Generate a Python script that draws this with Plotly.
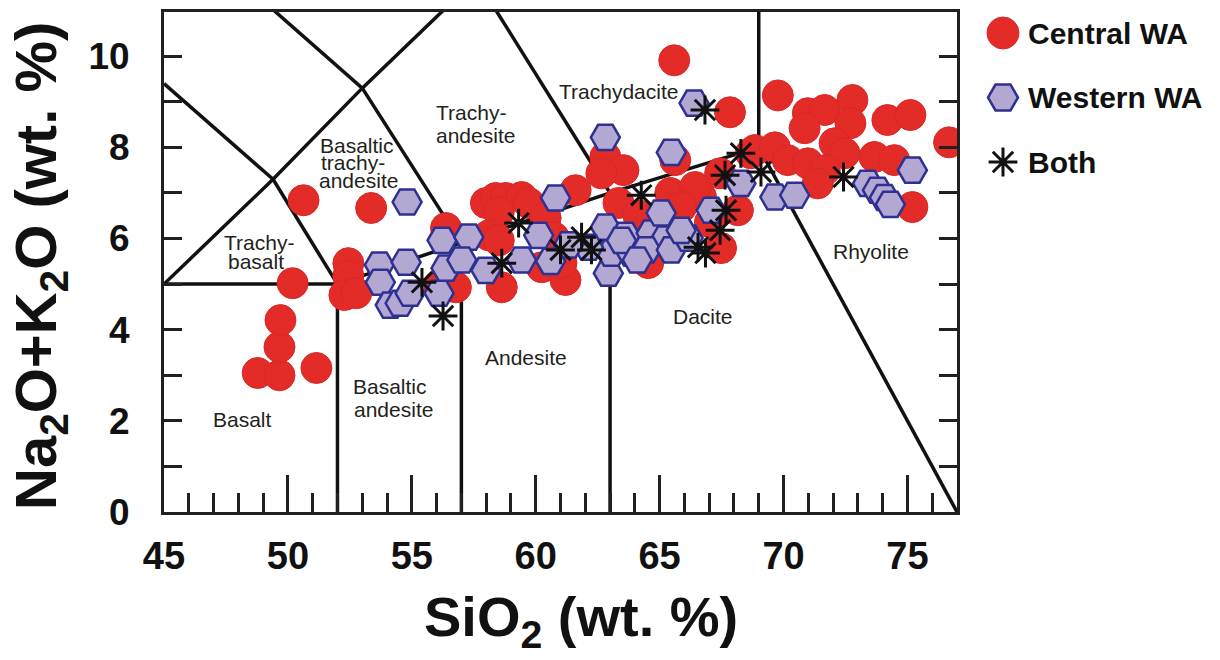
import plotly.graph_objects as go

# ---------------- data ----------------
central_sio2 = [48.78, 49.66, 49.66, 49.70, 51.15, 50.19, 50.63, 53.36, 52.44, 52.44,
                52.28, 52.76, 56.38, 56.10, 56.78, 57.99, 58.39, 58.79, 59.43, 59.72,
                58.51, 60.40, 58.11, 58.51, 58.63, 60.24, 61.20, 61.04, 61.61, 60.72,
                62.81, 63.54, 63.34, 62.65, 64.54, 65.59, 65.63, 65.43, 66.67, 67.44,
                67.84, 67.48, 68.16, 66.43, 65.87, 68.68, 68.85, 69.77, 69.65, 70.17,
                70.98, 71.66, 72.78, 72.70, 70.85, 74.19, 75.12, 76.68, 70.98, 72.06,
                72.46, 71.66, 71.38, 73.67, 74.47, 75.20, 64.14, 67.03]
central_alk = [3.05, 3.00, 3.62, 4.21, 3.16, 5.02, 6.84, 6.67, 5.46, 5.18,
               4.76, 4.80, 6.23, 4.98, 4.93, 6.78, 6.89, 6.89, 6.91, 6.78,
               6.58, 6.45, 6.07, 5.96, 4.93, 5.37, 5.09, 5.46, 7.06, 6.03,
               7.79, 7.50, 6.78, 7.43, 5.46, 9.91, 7.72, 7.00, 6.91, 7.43,
               8.77, 5.79, 6.62, 7.13, 6.69, 7.87, 7.94, 9.14, 8.00, 7.72,
               8.75, 8.82, 9.04, 8.53, 8.42, 8.60, 8.71, 8.11, 7.65, 8.09,
               7.87, 7.50, 7.21, 7.79, 7.72, 6.69, 6.51, 6.36]

western_sio2 = [54.81, 53.69, 54.77, 53.73, 54.13, 54.53, 54.93, 56.10, 56.22, 57.30,
                56.38, 57.02, 57.99, 59.43, 60.12, 60.80, 62.81, 63.62, 64.66, 62.93,
                63.05, 63.86, 65.06, 62.13, 65.23, 64.46, 65.47, 63.46, 64.10, 62.81,
                65.47, 66.39, 68.28, 69.65, 70.45, 73.39, 73.79, 74.07, 74.31, 75.20,
                67.08, 66.15, 65.87, 61.32, 60.60]
western_alk = [6.80, 5.42, 5.48, 5.04, 4.54, 4.58, 4.80, 4.80, 5.96, 6.03,
               5.35, 5.53, 5.30, 5.53, 6.07, 6.89, 6.25, 6.07, 6.12, 5.24,
               5.68, 5.68, 6.56, 5.81, 5.99, 5.75, 5.75, 5.96, 5.53, 8.22,
               7.89, 8.97, 7.21, 6.91, 6.95, 7.21, 7.06, 6.90, 6.75, 7.50,
               6.62, 6.01, 6.18, 5.86, 5.50]

both_sio2 = [56.26, 55.41, 58.63, 59.31, 61.00, 61.85, 62.25, 64.26, 66.83, 66.55,
             66.85, 67.44, 67.68, 67.64, 68.28, 69.09, 72.42]
both_alk = [4.30, 5.04, 5.46, 6.34, 5.75, 6.03, 5.75, 6.95, 8.82, 5.81,
            5.68, 6.18, 6.62, 7.39, 7.87, 7.46, 7.35]

# TAS field boundaries (Le Bas et al., 1986)
boundary_lines = [
    ([52, 52], [0, 5]),
    ([45, 52], [5, 5]),
    ([52, 57, 63, 69], [5, 5.9, 7, 8]),
    ([57, 57], [0, 5.9]),
    ([63, 63], [0, 7]),
    ([69, 69], [8, 12]),
    ([77, 69], [0, 8]),
    ([45, 49.4, 53, 57.6], [5, 7.3, 9.3, 11.7]),
    ([49.4, 52], [7.3, 5]),
    ([48.4, 53, 57], [11.5, 9.3, 5.9]),
    ([57.6, 63], [11.7, 7]),
    ([45, 49.4], [9.4, 7.3]),
]

# field names: one entry per text line (text, SiO2, alkali)
field_lines = [
    ("Trachy-", 48.82, 5.92), ("basalt", 48.70, 5.49),
    ("Basaltic", 52.80, 8.05), ("trachy-", 52.62, 7.66), ("andesite", 52.84, 7.27),
    ("Trachy-", 57.39, 8.76), ("andesite", 57.55, 8.27),
    ("Trachydacite", 63.34, 9.23),
    ("Basalt", 48.17, 2.02),
    ("Basaltic", 54.13, 2.75), ("andesite", 54.25, 2.24),
    ("Andesite", 59.60, 3.40),
    ("Dacite", 66.76, 4.28),
    ("Rhyolite", 73.51, 5.72),
]

legend_names = ["Central WA", "Western WA", "Both"]

x_ticks = [45, 50, 55, 60, 65, 70, 75]
y_ticks = [0, 2, 4, 6, 8, 10]

# ---------------- styles ----------------
W, H = 1220, 660
PL, PR, PT, PB = 164, 957, 12, 512
INK = "#231f20"
RED = "#e32b27"
HEX_FILL = "#b3a8d2"
HEX_LINE = "#2e3192"
SANS = "Liberation Sans, Arial, sans-serif"

fig = go.Figure()

for xs, ys in boundary_lines:
    fig.add_trace(go.Scatter(x=xs, y=ys, mode="lines",
                             line=dict(color="#111111", width=3.5),
                             hoverinfo="skip", showlegend=False))

fig.add_trace(go.Scatter(x=central_sio2, y=central_alk, mode="markers", name="Central WA",
                         marker=dict(symbol="circle", size=31, color=RED,
                                     line=dict(color="#d8282a", width=1)),
                         showlegend=False))
fig.add_trace(go.Scatter(x=western_sio2, y=western_alk, mode="markers", name="Western WA",
                         marker=dict(symbol="hexagon2", size=29, color=HEX_FILL,
                                     line=dict(color=HEX_LINE, width=2.5)),
                         showlegend=False))
fig.add_trace(go.Scatter(x=both_sio2, y=both_alk, mode="markers", name="Both",
                         marker=dict(symbol="asterisk-open", size=24, color="#111111",
                                     line=dict(color="#111111", width=3)),
                         showlegend=False))

# manual legend on an overlay axis measured in pixels
leg_y = [33 + 64.5 * i for i in range(len(legend_names))]
leg_styles = [
    dict(symbol="circle", size=32, color=RED, line=dict(color="#d8282a", width=1)),
    dict(symbol="hexagon2", size=30, color=HEX_FILL, line=dict(color=HEX_LINE, width=2.5)),
    dict(symbol="asterisk-open", size=24, color="#111111", line=dict(color="#111111", width=3)),
]
for name, yy, st in zip(legend_names, leg_y, leg_styles):
    fig.add_trace(go.Scatter(x=[1003], y=[yy], mode="markers", marker=st,
                             xaxis="x2", yaxis="y2", showlegend=False, hoverinfo="skip"))

annotations = []
for text, xx, yy in field_lines:
    annotations.append(dict(x=xx, y=yy, xref="x", yref="y", text=text, showarrow=False,
                            font=dict(family=SANS, size=21, color=INK)))
for name, yy in zip(legend_names, leg_y):
    annotations.append(dict(x=1026, y=yy, xref="x2", yref="y2", text=name, showarrow=False,
                            xanchor="left", yanchor="middle",
                            font=dict(family=SANS, size=30, color="#111111", weight="bold")))
# axis titles
annotations.append(dict(x=581, y=620, xref="x2", yref="y2",
                        text="SiO<sub>2</sub> (wt. %)", showarrow=False,
                        xanchor="center", yanchor="middle",
                        font=dict(family=SANS, size=56, color="#111111", weight="bold")))
annotations.append(dict(x=40, y=266, xref="x2", yref="y2", textangle=-90,
                        text="Na<sub>2</sub>O+K<sub>2</sub>O (wt. %)", showarrow=False,
                        xanchor="center", yanchor="middle",
                        font=dict(family=SANS, size=58, color="#111111", weight="bold")))

fig.update_layout(
    width=W, height=H,
    margin=dict(l=0, r=0, t=0, b=0, pad=0),
    paper_bgcolor="white", plot_bgcolor="rgba(0,0,0,0)",
    showlegend=False,
    annotations=annotations,
    xaxis=dict(domain=[PL / W, PR / W], range=[45, 77], anchor="y", automargin=False,
               showgrid=False, zeroline=False,
               showline=True, linecolor=INK, linewidth=3, mirror=True,
               tickmode="array", tickvals=x_ticks, ticktext=[str(v) for v in x_ticks],
               ticks="inside", ticklen=37, tickwidth=2.5, tickcolor=INK,
               minor=dict(dtick=1, ticks="inside", ticklen=19, tickwidth=2.5, tickcolor=INK),
               ticklabelstandoff=8,
               tickfont=dict(family=SANS, size=38, color="#111111", weight="bold")),
    yaxis=dict(domain=[(H - PB) / H, (H - PT) / H], range=[0, 10.97], anchor="x", automargin=False,
               showgrid=False, zeroline=False,
               showline=True, linecolor=INK, linewidth=3, mirror="ticks",
               tickmode="array", tickvals=y_ticks, ticktext=[str(v) for v in y_ticks],
               ticks="inside", ticklen=18, tickwidth=2.5, tickcolor=INK,
               minor=dict(dtick=1, ticks="inside", ticklen=18, tickwidth=2.5, tickcolor=INK),
               ticklabelstandoff=24,
               tickfont=dict(family=SANS, size=37, color="#111111", weight="bold")),
    xaxis2=dict(domain=[0, 1], range=[0, W], anchor="y2", visible=False, fixedrange=True,
                automargin=False),
    yaxis2=dict(domain=[0, 1], range=[H, 0], anchor="x2", visible=False, fixedrange=True,
                automargin=False),
)

fig.write_html("out.html", config={"displayModeBar": False},
               post_script="document.body.style.margin='0';document.body.style.overflow='hidden';")
